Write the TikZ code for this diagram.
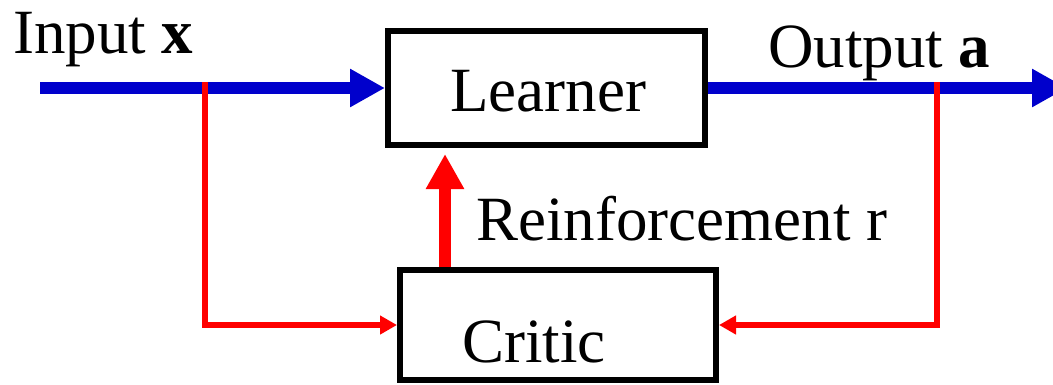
\documentclass[tikz,border=0pt]{standalone}
\usepackage{fontspec}
\setmainfont{Liberation Serif}
\usetikzlibrary{arrows.meta}
\definecolor{flowblue}{RGB}{0,0,204}
\definecolor{feedred}{RGB}{255,0,0}
\begin{document}
\begin{tikzpicture}[x=1pt,y=-1pt,
  box/.style={draw=black,line width=6pt,rectangle,inner sep=0pt},
  lbl/.style={font=\fontsize{63}{70}\selectfont,inner sep=0pt,anchor=base west},
  blueflow/.style={draw=flowblue,line width=12pt,-{Triangle[length=35pt,width=36pt]}},
  redfeed/.style={draw=feedred,line width=5.5pt,-{Triangle[length=17pt,width=18pt]}},
  reinf/.style={draw=feedred,line width=12pt,-{Triangle[length=35pt,width=36pt]},shorten >=6pt}
]
\useasboundingbox (0,0) rectangle (1053,384);
\fill[white] (0,0) rectangle (1053,384);
\node[box,minimum width=317pt,minimum height=114pt] (learner) at (546.5,88) {};
\node[box,minimum width=316pt,minimum height=110pt] (critic) at (558,325) {};
\node[lbl] (learnertext) at (450,111) {Learner};
\node[lbl] (critictext) at (462,362) {Critic};
\node[lbl] (inputtext) at (13,53) {Input \textbf{x}};
\node[lbl] (outputtext) at (768,67) {Output \textbf{a}};
\node[lbl] (reinftext) at (476,240) {Reinforcement r};
\coordinate (in) at (40,88);
\coordinate (out) at (1067,88);
\coordinate (tapx) at (205,82);
\coordinate (tapa) at (937,82);
\coordinate (rx) at (445,0);
\draw[blueflow] (in) -- (learner.west);
\draw[blueflow] (learner.east) -- (out);
\draw[redfeed] (tapx) |- (critic.west);
\draw[redfeed] (tapa) |- (critic.east);
\draw[reinf] (critic.north -| rx) -- (learner.south -| rx);
\end{tikzpicture}
\end{document}
